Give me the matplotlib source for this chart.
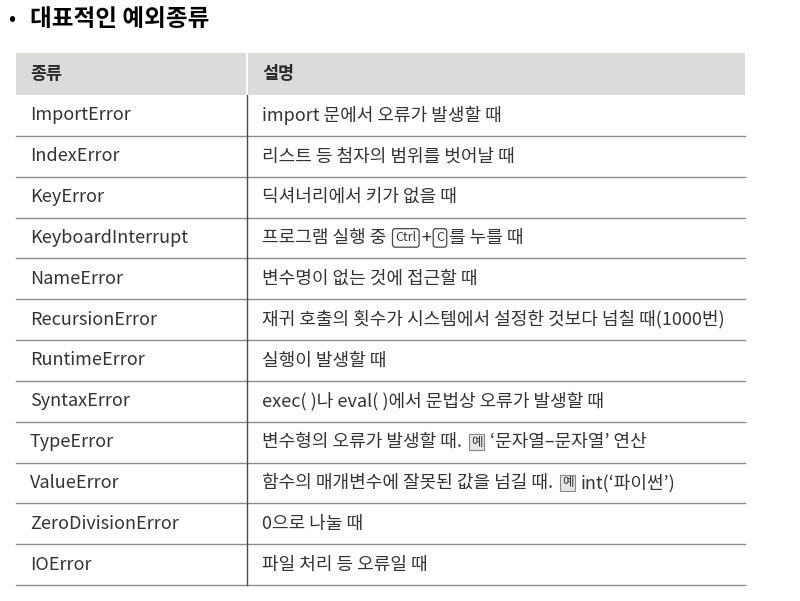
import re
import matplotlib
matplotlib.use('Agg')
import matplotlib.pyplot as plt
from matplotlib.patches import Rectangle

plt.rcParams['font.family'] = ['Noto Sans CJK KR', 'DejaVu Sans']

title = '대표적인 예외종류'
headers = ['종류', '설명']
kinds = ['ImportError', 'IndexError', 'KeyError', 'KeyboardInterrupt',
         'NameError', 'RecursionError', 'RuntimeError', 'SyntaxError',
         'TypeError', 'ValueError', 'ZeroDivisionError', 'IOError']
# [..] = key cap box, {..} = small grey label box
descs = ['import 문에서 오류가 발생할 때',
         '리스트 등 첨자의 범위를 벗어날 때',
         '딕셔너리에서 키가 없을 때',
         '프로그램 실행 중 [Ctrl]+[C]를 누를 때',
         '변수명이 없는 것에 접근할 때',
         '재귀 호출의 횟수가 시스템에서 설정한 것보다 넘칠 때(1000번)',
         '실행이 발생할 때',
         'exec( )나 eval( )에서 문법상 오류가 발생할 때',
         '변수형의 오류가 발생할 때. {예}‘문자열–문자열’ 연산',
         '함수의 매개변수에 잘못된 값을 넘길 때. {예}int(‘파이썬’)',
         '0으로 나눌 때',
         '파일 처리 등 오류일 때']

W, H = 800, 601
fig = plt.figure(figsize=(W / 100, H / 100), dpi=100)
ax = fig.add_axes([0, 0, 1, 1])
ax.set_xlim(0, W)
ax.set_ylim(H, 0)
ax.axis('off')

txt = '#333333'
left, mid, right = 16, 246.5, 745
head_top, head_bot = 53, 95
row_h = (585 - head_bot) / len(kinds)

# title
ax.text(8, 19, '•', fontsize=15, color='black', va='center', ha='left')
ax.text(30, 19, title, fontsize=17, fontweight='bold', color='black',
        va='center', ha='left')

# header
ax.add_patch(Rectangle((left, head_top), mid - 1 - left, head_bot - head_top,
                       facecolor='#dcdbd9', edgecolor='none'))
ax.add_patch(Rectangle((mid + 1.5, head_top), right - mid - 1.5, head_bot - head_top,
                       facecolor='#dcdbd9', edgecolor='none'))
hy = (head_top + head_bot) / 2
ax.text(30, hy, headers[0], fontsize=12.5, fontweight='bold', color='#2a2a2a',
        va='center', ha='left')
ax.text(262, hy, headers[1], fontsize=12.5, fontweight='bold', color='#2a2a2a',
        va='center', ha='left')

# grid
for i in range(len(kinds)):
    yb = head_bot + row_h * (i + 1)
    ax.plot([left, right], [yb, yb], color='#8c8c8c', lw=1.0)
ax.plot([mid, mid], [head_bot, 585], color='#4a4a4a', lw=1.0)


def draw_desc(x, y, s):
    parts = [p for p in re.split(r'(\[[^\]]+\]|\{[^}]+\})', s) if p]
    prev = None
    prev_kind = None
    for p in parts:
        if p.startswith('['):
            kind = 'key'
            kw = dict(fontsize=9, color=txt,
                      bbox=dict(boxstyle='round,pad=0.22', fc='white',
                                ec='#444444', lw=0.9))
            label = p[1:-1]
        elif p.startswith('{'):
            kind = 'tag'
            kw = dict(fontsize=9, color=txt,
                      bbox=dict(boxstyle='square,pad=0.15', fc='#e6e6e6',
                                ec='#888888', lw=0.8))
            label = p[1:-1]
        else:
            kind = 'text'
            kw = dict(fontsize=13, color=txt)
            label = p
        gap = 0.5
        if kind != 'text' or prev_kind == 'key':
            gap = 3.5
        if prev_kind == 'tag':
            gap = 5.5
        if prev is None:
            prev = ax.text(x, y, label, va='center', ha='left', **kw)
        else:
            prev = ax.annotate(label, xy=(1, 0.5), xycoords=prev,
                               xytext=(gap, 0), textcoords='offset points',
                               va='center', ha='left', **kw)
        prev_kind = kind


for i, (k, d) in enumerate(zip(kinds, descs)):
    yc = head_bot + row_h * (i + 0.5)
    ax.text(30, yc, k, fontsize=13, color=txt, va='center', ha='left')
    draw_desc(262, yc, d)

fig.savefig('out.png', dpi=100, facecolor='white')
